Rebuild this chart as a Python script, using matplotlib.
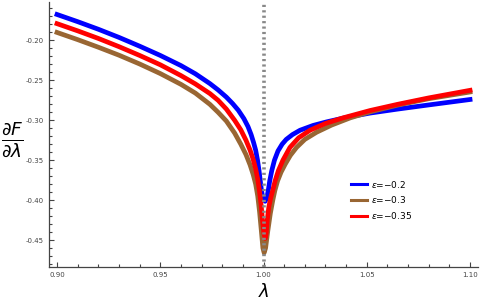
import matplotlib
matplotlib.use("Agg")
import matplotlib.pyplot as plt
from matplotlib.ticker import MultipleLocator

# series: (lambda, dF/dlambda)
lam_a = [0.900, 0.910, 0.920, 0.930, 0.940, 0.950, 0.960, 0.967, 0.974, 0.978,
         0.982, 0.985, 0.9878, 0.9905, 0.9925, 0.9940, 0.9952, 0.9962, 0.9971,
         0.9978, 0.9984, 0.9990, 0.9997, 1.0008, 1.0016, 1.0023, 1.0030, 1.0040,
         1.0053, 1.0070, 1.0090, 1.0110, 1.0140, 1.0177, 1.0240, 1.0306, 1.0400,
         1.0516, 1.0650, 1.0800, 1.1000]
val_a = [-0.1675, -0.1765, -0.1860, -0.1962, -0.2072, -0.2188, -0.2315, -0.2418,
         -0.2540, -0.2620, -0.2710, -0.2790, -0.2875, -0.2980, -0.3080, -0.3180,
         -0.3280, -0.3375, -0.3500, -0.3625, -0.3750, -0.3880, -0.3970, -0.4015,
         -0.3970, -0.3880, -0.3760, -0.3630, -0.3500, -0.3385, -0.3300, -0.3240,
         -0.3180, -0.3125, -0.3065, -0.3020, -0.2965, -0.2910, -0.2860, -0.2808,
         -0.2740]

lam_b = [0.900, 0.910, 0.920, 0.930, 0.940, 0.950, 0.960, 0.967, 0.974, 0.978,
         0.982, 0.986, 0.989, 0.9915, 0.9935, 0.9950, 0.9962, 0.9972, 0.9981,
         0.9990, 0.9997, 1.0003, 1.0010, 1.0020, 1.0033, 1.0045, 1.0055, 1.0068,
         1.0085, 1.0105, 1.0130, 1.0160, 1.0200, 1.0257, 1.0330, 1.0420, 1.0516,
         1.0650, 1.0800, 1.1000]
val_b = [-0.1900, -0.1990, -0.2085, -0.2185, -0.2295, -0.2415, -0.2550, -0.2660,
         -0.2800, -0.2900, -0.3010, -0.3160, -0.3300, -0.3430, -0.3560, -0.3680,
         -0.3800, -0.3950, -0.4150, -0.4400, -0.4600, -0.4660, -0.4600, -0.4400,
         -0.4167, -0.4000, -0.3880, -0.3760, -0.3650, -0.3550, -0.3440, -0.3340,
         -0.3240, -0.3150, -0.3060, -0.2970, -0.2895, -0.2810, -0.2730, -0.2646]

lam_c = [0.900, 0.910, 0.920, 0.930, 0.940, 0.950, 0.960, 0.967, 0.974, 0.978,
         0.982, 0.986, 0.989, 0.9915, 0.9935, 0.9950, 0.9962, 0.9972, 0.9980,
         0.9988, 0.9995, 1.0002, 1.0008, 1.0013, 1.0018, 1.0026, 1.0035, 1.0045,
         1.0056, 1.0072, 1.0094, 1.0128, 1.0170, 1.0225, 1.0300, 1.0385, 1.0516,
         1.0650, 1.0800, 1.1000]
val_c = [-0.1790, -0.1880, -0.1975, -0.2078, -0.2188, -0.2305, -0.2440, -0.2545,
         -0.2665, -0.2750, -0.2860, -0.3000, -0.3120, -0.3250, -0.3375, -0.3490,
         -0.3610, -0.3740, -0.3880, -0.4050, -0.4250, -0.4420, -0.4480, -0.4420,
         -0.4250, -0.4080, -0.3970, -0.3875, -0.3760, -0.3630, -0.3500, -0.3340,
         -0.3220, -0.3125, -0.3040, -0.2970, -0.2878, -0.2800, -0.2720, -0.2625]

labels = ["$\\varepsilon$=\u22120.2", "$\\varepsilon$=\u22120.3", "$\\varepsilon$=\u22120.35"]
colors = ["#0000ff", "#996633", "#ff0000"]

fig = plt.figure(figsize=(4.8, 3.01), dpi=100)
ax = fig.add_axes([0.102, 0.113, 0.894, 0.88])

for lam, val, lab, c in zip([lam_a, lam_b, lam_c], [val_a, val_b, val_c], labels, colors):
    ax.plot(lam, val, color=c, lw=3.4, label=lab, solid_joinstyle="round")

ax.axvline(1.0, color="#888888", lw=2.6, ls=(0, (0.6, 0.9)), zorder=5)

ax.set_xlim(0.8961, 1.1039)
ax.set_ylim(-0.4838, -0.152)
ax.xaxis.set_major_locator(MultipleLocator(0.05))
ax.xaxis.set_minor_locator(MultipleLocator(0.01))
ax.yaxis.set_major_locator(MultipleLocator(0.05))
ax.yaxis.set_minor_locator(MultipleLocator(0.01))
ax.xaxis.set_major_formatter(plt.FormatStrFormatter("%.2f"))
ax.yaxis.set_major_formatter(plt.FormatStrFormatter("%.2f"))
ax.tick_params(which="both", direction="in", labelsize=5, labelcolor="#444444",
               color="#444444", width=0.8)
ax.tick_params(which="major", length=3.5)
ax.tick_params(which="minor", length=2)
ax.spines["top"].set_visible(False)
ax.spines["right"].set_visible(False)
for s in ("left", "bottom"):
    ax.spines[s].set_color("#444444")
    ax.spines[s].set_linewidth(0.9)

ax.set_xlabel(r"$\lambda$", fontsize=13, labelpad=4)
ax.set_ylabel(r"$\frac{\partial F}{\partial \lambda}$", fontsize=19, rotation=0,
              va="center", ha="center")
ax.yaxis.set_label_coords(-0.085, 0.48)

leg = ax.legend(loc="center left", bbox_to_anchor=(0.686, 0.253), frameon=False,
                fontsize=6.5, handlelength=1.7, handletextpad=0.5, labelspacing=0.55)
for h in leg.legend_handles:
    h.set_linewidth(2.2)

fig.savefig("out.png", dpi=100)
